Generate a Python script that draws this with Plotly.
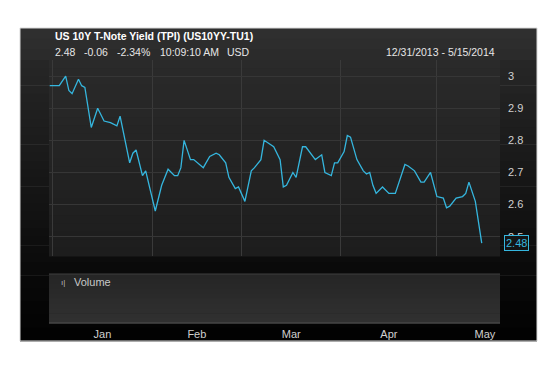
import plotly.graph_objects as go

# ---------------- data ----------------
DATES = [
    "2013-12-31", "2014-01-03", "2014-01-05", "2014-01-06", "2014-01-07", "2014-01-09",
    "2014-01-10", "2014-01-11", "2014-01-13", "2014-01-15", "2014-01-17", "2014-01-19",
    "2014-01-21", "2014-01-22", "2014-01-25", "2014-01-26", "2014-01-27", "2014-01-29",
    "2014-01-30", "2014-01-31", "2014-02-02", "2014-02-04", "2014-02-06", "2014-02-08",
    "2014-02-09", "2014-02-10", "2014-02-11", "2014-02-13", "2014-02-14", "2014-02-17",
    "2014-02-19", "2014-02-21", "2014-02-22", "2014-02-24", "2014-02-25", "2014-02-27",
    "2014-02-28", "2014-03-02", "2014-03-04", "2014-03-05", "2014-03-07", "2014-03-08",
    "2014-03-11", "2014-03-13", "2014-03-14", "2014-03-15", "2014-03-17", "2014-03-18",
    "2014-03-20", "2014-03-21", "2014-03-24", "2014-03-26", "2014-03-27", "2014-03-29",
    "2014-03-30", "2014-03-31", "2014-04-02", "2014-04-03", "2014-04-04", "2014-04-06",
    "2014-04-08", "2014-04-09", "2014-04-10", "2014-04-11", "2014-04-12", "2014-04-14",
    "2014-04-16", "2014-04-18", "2014-04-21", "2014-04-22", "2014-04-24", "2014-04-26",
    "2014-04-27", "2014-04-29", "2014-05-01", "2014-05-03", "2014-05-04", "2014-05-05",
    "2014-05-07", "2014-05-09", "2014-05-10", "2014-05-11", "2014-05-13", "2014-05-15",
]
YIELDS = [
    2.97, 2.97, 3.00, 2.955, 2.945, 2.99,
    2.97, 2.965, 2.84, 2.90, 2.86, 2.855,
    2.845, 2.875, 2.73, 2.76, 2.77, 2.69,
    2.705, 2.66, 2.58, 2.66, 2.71, 2.69,
    2.69, 2.715, 2.80, 2.74, 2.74, 2.715,
    2.75, 2.76, 2.755, 2.73, 2.685, 2.65,
    2.655, 2.61, 2.705, 2.715, 2.74, 2.80,
    2.78, 2.74, 2.655, 2.66, 2.70, 2.685,
    2.78, 2.78, 2.74, 2.755, 2.70, 2.69,
    2.73, 2.73, 2.765, 2.815, 2.81, 2.74,
    2.705, 2.695, 2.70, 2.66, 2.635, 2.655,
    2.635, 2.635, 2.725, 2.72, 2.705, 2.67,
    2.67, 2.70, 2.625, 2.62, 2.59, 2.595,
    2.62, 2.625, 2.635, 2.67, 2.61, 2.48,
]
Y_TICKS = [2.5, 2.6, 2.7, 2.8, 2.9, 3.0]
Y_TICK_TEXT = ["2.5", "2.6", "2.7", "2.8", "2.9", "3"]
X_RANGE = ["2013-12-30 19:00", "2014-05-20 17:00"]
Y_RANGE = [2.44, 3.05]

TITLE = "US 10Y T-Note Yield (TPI) (US10YY-TU1)"
QUOTE_PARTS = ["2.48", "-0.06", "-2.34%", "10:09:10 AM", "USD"]
PERIOD = "12/31/2013 - 5/15/2014"

# ---------------- layout geometry (pixels) ----------------
W, H = 553, 369
L, R, T, B = 49, 500, 60, 323
MAIN_BOTTOM = 256
VOL_TOP = 274
QUOTE_X = [53, 82, 115, 158, 225]


def px(x):
    return (x - L) / (R - L)


def py(y):
    return (B - y) / (B - T)


def hexmix(c1, c2, t):
    a = [int(c1[i:i + 2], 16) for i in (1, 3, 5)]
    b = [int(c2[i:i + 2], 16) for i in (1, 3, 5)]
    return "#%02x%02x%02x" % tuple(round(a[k] + (b[k] - a[k]) * t) for k in range(3))


shapes = []


def grad(x0, y0, x1, y1, ctop, cbot, n):
    h = (y1 - y0) / n
    for i in range(n):
        c = hexmix(ctop, cbot, i / max(n - 1, 1))
        shapes.append(dict(type="rect", xref="paper", yref="paper",
                           x0=px(x0), x1=px(x1), y0=py(y0 + i * h), y1=py(y0 + (i + 1) * h + 0.6),
                           fillcolor=c, line=dict(width=0), layer="below"))


# outer dark box
grad(20, 28, 537, 60, "#2f2f2f", "#2b2b2b", 3)
grad(20, 60, 537, 262, "#262626", "#0c0c0c", 24)
grad(20, 262, 537, 341, "#0a0a0a", "#020202", 6)
# main plot panel
grad(L, T, R, MAIN_BOTTOM, "#2a2a2a", "#1d1d1d", 24)
# volume panel
grad(L, VOL_TOP, R, B, "#262626", "#303030", 10)
shapes.append(dict(type="line", xref="paper", yref="paper", x0=px(L), x1=px(R), y0=py(VOL_TOP), y1=py(VOL_TOP),
                   line=dict(color="#3e3e3e", width=1), layer="below"))
shapes.append(dict(type="line", xref="paper", yref="paper", x0=px(L), x1=px(R), y0=py(B), y1=py(B),
                   line=dict(color="#505050", width=1), layer="below"))
# thin outer frame
shapes.append(dict(type="rect", xref="paper", yref="paper", x0=px(20), x1=px(537), y0=py(28), y1=py(341),
                   line=dict(color="#d8d8d8", width=1), fillcolor="rgba(0,0,0,0)", layer="below"))

FONT = "Liberation Sans, Arial, sans-serif"
LINE_COLOR = "#35b6de"

fig = go.Figure()
fig.add_trace(go.Scatter(x=DATES, y=YIELDS, mode="lines",
                         line=dict(color=LINE_COLOR, width=1.3),
                         xaxis="x", yaxis="y", hoverinfo="skip", showlegend=False))
fig.add_trace(go.Scatter(x=[], y=[], mode="lines", xaxis="x2", yaxis="y2",
                         hoverinfo="skip", showlegend=False))

annotations = [
    dict(text="<b>" + TITLE + "</b>", x=px(53), y=py(36.5), xref="paper", yref="paper",
         xanchor="left", yanchor="middle", showarrow=False,
         font=dict(family=FONT, size=10.5, color="#ffffff")),
    dict(text=PERIOD, x=px(497), y=py(52), xref="paper", yref="paper",
         xanchor="right", yanchor="middle", showarrow=False,
         font=dict(family=FONT, size=10.5, color="#e6e6e6")),
    dict(text="Volume", x=px(72), y=py(281.5), xref="paper", yref="paper",
         xanchor="left", yanchor="middle", showarrow=False,
         font=dict(family=FONT, size=11, color="#c8c8c8")),
    dict(text="ı|", x=px(59), y=py(282), xref="paper", yref="paper",
         xanchor="left", yanchor="middle", showarrow=False,
         font=dict(family=FONT, size=8, color="#bdbdbd")),
    dict(text="%.2f" % YIELDS[-1], x=1, xref="paper", xshift=4, y=YIELDS[-1], yref="y",
         xanchor="left", yanchor="middle", showarrow=False,
         bordercolor=LINE_COLOR, borderwidth=1, borderpad=1, bgcolor="#141414",
         font=dict(family=FONT, size=11, color=LINE_COLOR)),
]
for part, qx in zip(QUOTE_PARTS, QUOTE_X):
    annotations.append(dict(text=part, x=px(qx), y=py(52), xref="paper", yref="paper",
                            xanchor="left", yanchor="middle", showarrow=False,
                            font=dict(family=FONT, size=10.5, color="#e6e6e6")))

main_dom = [py(MAIN_BOTTOM), 1]
vol_dom = [0, py(VOL_TOP)]

fig.update_layout(
    width=W, height=H,
    margin=dict(l=L, r=W - R, t=T, b=H - B, pad=0),
    paper_bgcolor="#ffffff",
    plot_bgcolor="rgba(0,0,0,0)",
    shapes=shapes,
    annotations=annotations,
    font=dict(family=FONT, size=11, color="#cccccc"),
    showlegend=False,
    xaxis=dict(type="date", range=X_RANGE, domain=[0, 1], anchor="y",
               showgrid=True, gridcolor="#3a3a3a", gridwidth=1,
               tick0="2014-01-01", dtick="M1", showticklabels=False,
               zeroline=False, showline=False, ticks=""),
    yaxis=dict(domain=main_dom, range=Y_RANGE, side="right", anchor="x",
               tickmode="array", tickvals=Y_TICKS, ticktext=Y_TICK_TEXT,
               showgrid=True, gridcolor="#363636", gridwidth=1,
               zeroline=False, showline=False, ticks="",
               ticklabelstandoff=7,
               tickfont=dict(family=FONT, size=11, color="#d0d0d0")),
    xaxis2=dict(type="date", matches="x", anchor="y2", domain=[0, 1],
                tick0="2014-01-01", dtick="M1", tickformat="%b",
                ticklabelmode="period", showgrid=False, zeroline=False,
                showline=False, ticks="", ticklabelstandoff=3,
                tickfont=dict(family=FONT, size=11, color="#d0d0d0")),
    yaxis2=dict(domain=vol_dom, range=[0, 1], anchor="x2", visible=False),
)

fig.write_html("out.html")
